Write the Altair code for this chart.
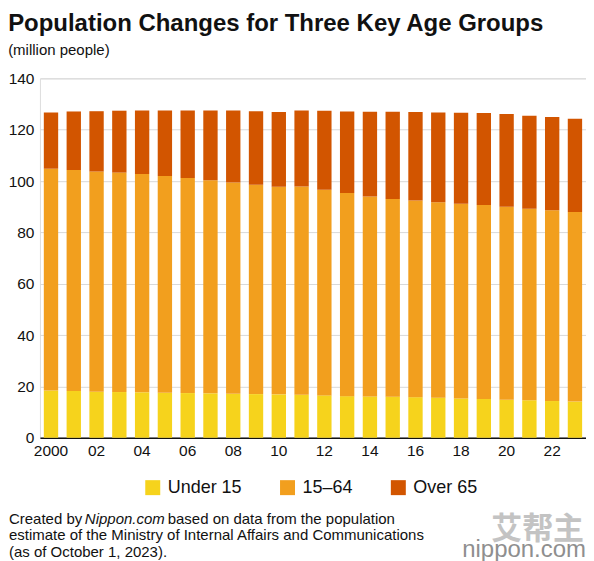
import altair as alt
import pandas as pd

FONT = "Liberation Sans"

# ---- data (million people) ----
years = list(range(2000, 2024))
under15 = [18.4, 18.2, 17.9, 17.8, 17.7, 17.5, 17.4, 17.3, 17.1, 17.0, 16.9, 16.7,
           16.5, 16.2, 16.1, 16.0, 15.8, 15.6, 15.3, 15.1, 14.8, 14.6, 14.3, 14.1]
age15_64 = [86.4, 86.1, 85.8, 85.5, 85.0, 84.5, 83.8, 83.0, 82.3, 81.6, 80.9, 81.2,
            80.1, 79.1, 77.9, 77.0, 76.6, 76.1, 75.9, 75.6, 75.2, 74.6, 74.3, 73.8]
over65 = [21.9, 22.8, 23.5, 24.1, 24.8, 25.5, 26.3, 27.2, 28.1, 28.6, 29.1, 29.6,
          30.8, 31.8, 33.0, 34.0, 34.5, 35.0, 35.4, 35.8, 36.1, 36.2, 36.3, 36.4]

groups = ["Under 15", "15–64", "Over 65"]
colors = ["#F6D31C", "#F29F1E", "#D25500"]

x_tick_years = list(range(2000, 2023, 2))
y_ticks = list(range(0, 141, 20))

title_text = "Population Changes for Three Key Age Groups"
unit_text = "(million people)"
source_line1 = ["Created by", "Nippon.com", "based on data from the population"]
source_line2 = "estimate of the Ministry of Internal Affairs and Communications"
source_line3 = "(as of October 1, 2023)."
logo_text = "nippon.com"
watermark_text = "艾帮主"

# ---- long table ----
rows = []
for i, yr in enumerate(years):
    for k, (g, vals) in enumerate(zip(groups, [under15, age15_64, over65])):
        rows.append({"year": yr, "group": g, "value": vals[i], "order": k})
df = pd.DataFrame(rows)

W = 547
H = 360

bars = alt.Chart(df).mark_bar().encode(
    x=alt.X(
        "year:O",
        scale=alt.Scale(paddingInner=0.37, paddingOuter=0.17),
        axis=alt.Axis(
            title=None, values=x_tick_years, labelAngle=0, ticks=False, grid=False,
            domain=True, domainColor="#111111", domainWidth=1.5,
            labelFont=FONT, labelFontSize=15.5, labelColor="#111111", labelPadding=6,
            labelExpr="datum.value == 2000 ? '2000' : substring(toString(datum.value), 2, 4)",
        ),
    ),
    y=alt.Y(
        "value:Q",
        stack="zero",
        scale=alt.Scale(domain=[0, 140], nice=False),
        axis=alt.Axis(
            title=None, values=y_ticks, ticks=False, domain=False, grid=True,
            gridColor="#d9d9d9", gridWidth=1,
            labelFont=FONT, labelFontSize=15.5, labelColor="#111111", labelPadding=6,
        ),
    ),
    color=alt.Color(
        "group:N",
        scale=alt.Scale(domain=groups, range=colors),
        legend=alt.Legend(
            title=None, orient="none", legendX=104, legendY=401, direction="horizontal",
            symbolType="square", symbolSize=225, symbolStrokeWidth=0, symbolOpacity=1,
            labelFont=FONT, labelFontSize=18, labelColor="#111111", labelOffset=6,
            columnPadding=36,
        ),
    ),
    order=alt.Order("order:Q", sort="ascending"),
)


def text_layer(txt, x, y, size=15, style="normal", color="#111111", align="left",
               weight="normal", font=FONT, opacity=1.0):
    return alt.Chart(pd.DataFrame({"t": [txt]})).mark_text(
        align=align, baseline="middle", font=font, fontSize=size, fontStyle=style,
        fontWeight=weight, color=color, opacity=opacity,
    ).encode(x=alt.value(x), y=alt.value(y), text="t:N")


left = -31
src = [
    text_layer(source_line1[0], left, 441),
    text_layer(source_line1[1], left + 76, 441, style="italic"),
    text_layer(source_line1[2], left + 159, 441),
    text_layer(source_line2, left, 457.5),
    text_layer(source_line3, left, 474),
    text_layer(logo_text, W, 472, size=24, color="#8f8f8f", align="right"),
    text_layer(watermark_text, W - 2, 452, size=31, color="#b0b0b0", align="right",
               weight="bold", font="Noto Sans CJK SC", opacity=0.75),
]

chart = alt.layer(bars, *src).properties(
    width=W,
    height=H,
    padding={"left": 0, "top": 3, "right": 0, "bottom": 0},
    title=alt.TitleParams(
        text=title_text, subtitle=unit_text, anchor="start", frame="bounds",
        font=FONT, fontSize=24, fontWeight="bold", color="#111111",
        subtitleFont=FONT, subtitleFontSize=15, subtitleColor="#111111",
        subtitlePadding=7.5, offset=13,
    ),
).configure_view(stroke=None).configure(background="white")

chart.save("out.html", embed_options={"renderer": "svg", "actions": False})
